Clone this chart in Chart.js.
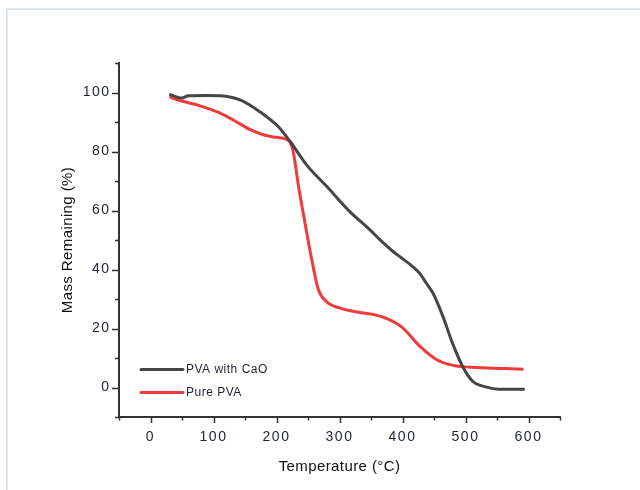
<!DOCTYPE html>
<html>
<head>
<meta charset="utf-8">
<script src="https://cdn.jsdelivr.net/npm/chart.js@4/dist/chart.umd.min.js"></script>
<style>
  body { margin: 0; background: #fff; }
  #wrap { position: relative; width: 640px; height: 490px; overflow: hidden; }
  #frame { position: absolute; left: 6px; top: 8px; width: 700px; height: 600px;
           border-left: 2px solid #dfe7f1; border-top: 2px solid #dfe7f1; }
  #tga { position: absolute; left: 0; top: 0; }
</style>
</head>
<body>
<div id="wrap">
  <div id="frame"></div>
  <canvas id="tga" width="640" height="490"></canvas>
</div>
<script>
// TGA curves: temperature (°C) vs mass remaining (%)
const TEMP_CAO = [30, 50, 60, 90, 111, 143, 174, 203, 222, 248, 280, 316, 348, 364, 385, 398, 416, 428, 438, 448, 464, 479, 495, 511, 532, 553, 594];
const MASS_CAO = [99.4, 98.1, 98.9, 99.0, 98.9, 97.4, 93.4, 88.4, 83.3, 75.4, 68.1, 59.7, 53.5, 50.1, 46.1, 44.0, 41.0, 38.5, 35.3, 32.1, 24.2, 15.2, 7.3, 2.2, 0.2, -0.6, -0.6];

const TEMP_PURE = [30, 48, 80, 106, 132, 159, 180, 200, 215, 222, 227, 235, 245, 256, 266, 280, 300, 330, 355, 378, 400, 427, 453, 480, 520, 563, 592];
const MASS_PURE = [98.5, 97.2, 95.4, 93.4, 90.6, 87.3, 85.6, 84.8, 84.2, 83.0, 79.4, 68.1, 56.0, 43.3, 33.5, 29.0, 27.0, 25.5, 24.7, 23.1, 20.3, 14.1, 9.6, 7.5, 6.8, 6.4, 6.2];

const SERIES_LABELS = ['PVA with CaO', 'Pure PVA'];
const SERIES_COLORS = ['#464646', '#ef3b3b'];

const X_MIN = -50, X_MAX = 650, X_STEP = 50;
const Y_MIN = -10, Y_MAX = 110, Y_STEP = 10;

const TEXT = '#1f2235';
const AXIS = '#333333';

Chart.defaults.font.family = '"Liberation Sans", Arial, sans-serif';
Chart.defaults.color = TEXT;

const toPoints = (xs, ys) => xs.map((x, i) => ({ x, y: ys[i] }));

// titles get a little tracking, tick numbers (drawn above the data, z: 1) get more
const spacing = {
  id: 'spacing',
  beforeDraw(chart) { chart.ctx.letterSpacing = '0.4px'; },
  afterDatasetsDraw(chart) { chart.ctx.letterSpacing = '1.5px'; }
};

// major / minor tick marks drawn outward from the axis lines
const tickMarks = {
  id: 'tickMarks',
  afterDraw(chart) {
    const { ctx, chartArea } = chart;
    const xs = chart.scales.x, ys = chart.scales.y;
    ctx.save();
    ctx.strokeStyle = AXIS;
    ctx.lineWidth = 1.5;
    ctx.beginPath();
    xs.ticks.forEach(t => {
      const px = Math.round(xs.getPixelForValue(t.value)) + 0.5;
      const len = t.value % 100 === 0 ? 6 : 3.5;
      ctx.moveTo(px, chartArea.bottom);
      ctx.lineTo(px, chartArea.bottom + len);
    });
    ys.ticks.forEach(t => {
      const py = Math.round(ys.getPixelForValue(t.value)) + 0.5;
      const len = t.value % 20 === 0 ? 7 : 4;
      ctx.moveTo(chartArea.left, py);
      ctx.lineTo(chartArea.left - len, py);
    });
    ctx.stroke();
    ctx.restore();
  }
};

// legend sitting inside the plot, lower left
const insideLegend = {
  id: 'insideLegend',
  afterDraw(chart) {
    const { ctx, chartArea } = chart;
    ctx.save();
    ctx.letterSpacing = '0.5px';
    ctx.font = '12px "Liberation Sans", Arial, sans-serif';
    ctx.textBaseline = 'middle';
    ctx.lineCap = 'round';
    chart.data.datasets.forEach((ds, i) => {
      const y = chartArea.bottom - 47.5 + i * 23;
      const x0 = chartArea.left + 21;
      ctx.strokeStyle = ds.borderColor;
      ctx.lineWidth = 3;
      ctx.beginPath();
      ctx.moveTo(x0 + 1, y);
      ctx.lineTo(x0 + 43, y);
      ctx.stroke();
      ctx.fillStyle = TEXT;
      ctx.fillText(ds.label, x0 + 46, y + 0.5);
    });
    ctx.restore();
  }
};

new Chart(document.getElementById('tga'), {
  type: 'line',
  data: {
    datasets: [
      { label: SERIES_LABELS[0], data: toPoints(TEMP_CAO, MASS_CAO), borderColor: SERIES_COLORS[0] },
      { label: SERIES_LABELS[1], data: toPoints(TEMP_PURE, MASS_PURE), borderColor: SERIES_COLORS[1] }
    ]
  },
  options: {
    responsive: false,
    animation: false,
    layout: { padding: { left: 0, top: 63, right: 80, bottom: 0 } },
    elements: {
      line: { borderWidth: 3, cubicInterpolationMode: 'monotone', fill: false },
      point: { radius: 0 }
    },
    plugins: { legend: { display: false }, tooltip: { enabled: false } },
    scales: {
      x: {
        type: 'linear', min: X_MIN, max: X_MAX,
        grid: { display: false, drawTicks: false },
        border: { display: true, color: AXIS, width: 2 },
        ticks: {
          z: 1,
          stepSize: X_STEP, autoSkip: false, maxRotation: 0, padding: 12,
          font: { size: 14 }, color: TEXT,
          callback: v => (v % 100 === 0 && v >= 0) ? v : ''
        },
        title: { display: true, text: 'Temperature (°C)', font: { size: 15 }, color: '#111', padding: { top: 0, bottom: 14.5 } },
        afterFit(scale) { scale.height = 73; }
      },
      y: {
        min: Y_MIN, max: Y_MAX,
        grid: { display: false, drawTicks: false },
        border: { display: true, color: AXIS, width: 2 },
        ticks: {
          z: 1,
          stepSize: Y_STEP, autoSkip: false, padding: 8.5,
          font: { size: 14 }, color: TEXT,
          callback: v => v % 20 === 0 ? v : ''
        },
        title: { display: true, text: 'Mass Remaining (%)', font: { size: 15 }, color: '#111', padding: { top: 59, bottom: 0 } },
        afterFit(scale) { scale.width = 119; }
      }
    }
  },
  plugins: [spacing, tickMarks, insideLegend]
});
</script>
</body>
</html>
